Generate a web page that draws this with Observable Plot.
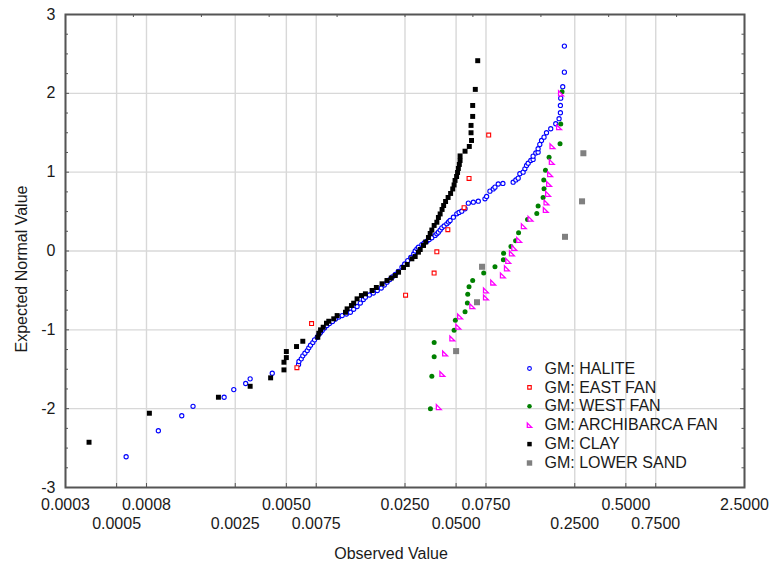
<!DOCTYPE html>
<html><head><meta charset="utf-8">
<script src="https://cdn.jsdelivr.net/npm/d3@7"></script>
<script src="https://cdn.jsdelivr.net/npm/@observablehq/plot@0.6"></script>
<style>body{margin:0;background:#fff;} #chart svg{display:block;}</style>
</head><body><div id="chart"></div>
<script>
const seriesNames = ["GM: HALITE", "GM: EAST FAN", "GM: WEST FAN", "GM: ARCHIBARCA FAN", "GM: CLAY", "GM: LOWER SAND"];

const haliteX = [0.000569,0.000881,0.00121,0.00141,0.00215,0.00245,0.00288,0.00306,0.00413,0.0059,
0.00593,0.00612,0.00625,0.00643,0.00664,0.00678,0.00694,0.00716,0.00733,0.0076,
0.00777,0.00795,0.00813,0.00839,0.00867,0.00897,0.00935,0.00973,0.01018,0.01066,
0.01129,0.01192,0.01246,0.01305,0.01364,0.01421,0.01461,0.01542,0.01627,0.01717,
0.01812,0.01888,0.01958,0.02034,0.02104,0.02191,0.02281,0.02399,0.0249,0.02594,
0.02702,0.02814,0.0287,0.02939,0.03,0.03142,0.03242,0.03364,0.03471,0.03597,
0.03761,0.03851,0.03933,0.04027,0.04119,0.0425,0.04408,0.04515,0.0461,0.0482,
0.05048,0.05203,0.05398,0.05645,0.05903,0.06317,0.06758,0.07398,0.07565,0.07911,
0.08272,0.08471,0.08856,0.09433,0.1084,0.1125,0.1161,0.1187,0.1241,0.1271,
0.130,0.1329,0.1377,0.1421,0.1421,0.1474,0.1521,0.1521,0.1556,0.1593,
0.1648,0.1704,0.1805,0.1932,0.2021,0.2058,0.2058,0.2067,0.2124,0.2172,
0.2172];
const haliteY = [-2.61,-2.28,-2.09,-1.97,-1.855,-1.758,-1.681,-1.622,-1.551,-1.44,
-1.402,-1.368,-1.33,-1.297,-1.263,-1.228,-1.195,-1.161,-1.127,-1.094,
-1.06,-1.034,-1.009,-0.977,-0.945,-0.92,-0.895,-0.863,-0.838,-0.819,
-0.799,-0.777,-0.739,-0.704,-0.66,-0.615,-0.586,-0.558,-0.533,-0.501,
-0.47,-0.431,-0.396,-0.362,-0.33,-0.298,-0.26,-0.206,-0.165,-0.121,
-0.082,-0.038,0,0.028,0.048,0.082,0.102,0.124,0.146,0.168,
0.197,0.218,0.239,0.266,0.294,0.317,0.345,0.368,0.387,0.429,
0.472,0.489,0.505,0.536,0.607,0.619,0.632,0.662,0.692,0.759,
0.787,0.81,0.85,0.857,0.873,0.901,0.924,0.98,1.0,1.043,
1.085,1.114,1.148,1.161,1.203,1.244,1.254,1.297,1.352,1.402,
1.444,1.5,1.551,1.614,1.678,1.754,1.846,1.939,2.084,2.269,
2.599];

const eastFanX = [0.00577,0.00704,0.0252,0.0371,0.0385,0.0447,0.0557,0.0596,0.0778];
const eastFanY = [-1.48,-0.92,-0.56,-0.28,-0.01,0.27,0.55,0.92,1.47];

const westFanX = [0.0353,0.03597,0.03713,0.03713,0.04866,0.04949,0.05645,0.05825,0.05855,0.05957,
0.06261,0.07271,0.08471,0.09494,0.0952,0.1052,0.1121,0.1167,0.1318,0.1494,
0.1521,0.1627,0.1648,0.1642,0.1681,0.1765,0.2048,0.2067,0.2104];
const westFanY = [-2.0,-1.59,-1.34,-1.16,-1.005,-0.88,-0.77,-0.66,-0.55,-0.455,
-0.375,-0.28,-0.2,-0.11,-0.03,0.057,0.13,0.23,0.4,0.476,
0.57,0.68,0.79,0.9,1.025,1.19,1.36,1.61,2.02];

const archibarcaX = [0.03954,0.04151,0.04307,0.04752,0.05155,0.05277,0.06228,0.07496,0.07496,0.08272,
0.09433,0.09963,0.1014,0.1066,0.110,0.1176,0.1253,0.1372,0.1688,0.1704,
0.1741,0.1765,0.1789,0.1831,0.1848,0.2021,0.2075];
const archibarcaY = [-1.98,-1.56,-1.3,-1.11,-0.96,-0.83,-0.7,-0.59,-0.5,-0.4,
-0.31,-0.22,-0.125,-0.03,0.04,0.14,0.315,0.41,0.52,0.615,
0.725,0.85,0.975,1.13,1.33,1.57,2.0];

const clayX = [0.000344,0.00078,0.00199,0.00306,0.00404,0.00484,0.00484,0.005,0.005,0.00574,
0.00625,0.00766,0.00777,0.00795,0.00824,0.00862,0.00889,0.00951,0.00996,0.01115,
0.0114,0.01209,0.01246,0.01305,0.01384,0.01461,0.016,0.01695,0.01831,0.01958,
0.02075,0.02191,0.02291,0.02451,0.02577,0.02744,0.0287,0.03,0.03073,0.03213,
0.0331,0.03436,0.03518,0.03597,0.03713,0.03851,0.03933,0.04027,0.04134,0.04222,
0.04335,0.04486,0.04641,0.04777,0.04866,0.0493,0.05034,0.051,0.05155,0.05223,
0.05277,0.05277,0.05645,0.0598,0.06164,0.06123,0.06123,0.06261,0.06261,0.06488,
0.06704];
const clayY = [-2.426,-2.058,-1.855,-1.716,-1.609,-1.508,-1.411,-1.352,-1.275,-1.212,
-1.145,-1.094,-1.043,-1.0,-0.967,-0.916,-0.891,-0.86,-0.819,-0.777,
-0.734,-0.692,-0.662,-0.607,-0.565,-0.543,-0.501,-0.463,-0.416,-0.374,
-0.343,-0.311,-0.269,-0.209,-0.171,-0.099,-0.07,-0.015,0.019,0.07,
0.114,0.171,0.222,0.266,0.324,0.365,0.425,0.47,0.527,0.577,
0.628,0.679,0.73,0.787,0.838,0.895,0.945,0.996,1.047,1.098,
1.148,1.206,1.266,1.326,1.402,1.5,1.593,1.707,1.846,2.05,
2.414];

const lowerSandX = [0.05,0.0664,0.0711,0.219,0.276,0.281];
const lowerSandY = [-1.27,-0.65,-0.2,0.18,0.63,1.24];

const xTicks = [0.00025,0.0005,0.00075,0.0025,0.005,0.0075,0.025,0.05,0.075,0.25,0.5,0.75,2.5];
const xTickLabels = ["0.0003","0.0005","0.0008","0.0025","0.0050","0.0075","0.0250","0.0500","0.0750","0.2500","0.5000","0.7500","2.5000"];
const yTicks = [-3,-2,-1,0,1,2,3];
const yTickLabels = ["-3","-2","-1","0","1","2","3"];
const yMinorTicks = [-2.75,-2.5,-2.25,-1.75,-1.5,-1.25,-0.75,-0.5,-0.25,0.25,0.5,0.75,1.25,1.5,1.75,2.25,2.5,2.75];
const topTicks = [0.000628,0.00158,0.00396,0.00995,0.025,0.0628,0.158,0.396,0.995];

const xLabelRows = xTicks.map((v, i) => ({v, label: xTickLabels[i], row: i % 2}));
const yLabelRows = yTicks.map((v, i) => ({v, label: yTickLabels[i]}));

const pts = (X, Y) => X.map((x, i) => ({x, y: Y[i]}));

const rightTriangle = {
  draw(ctx, size) {
    const s = Math.sqrt(size) * 1.15;
    ctx.moveTo(-s / 2, -s / 2);
    ctx.lineTo(-s / 2, s / 2);
    ctx.lineTo(s / 2, s / 2);
    ctx.closePath();
  }
};

const styles = [
  {symbol: "circle", r: 2.1, fill: "white", stroke: "#0000ff", strokeWidth: 1.1},
  {symbol: "square", r: 2.2, fill: "white", stroke: "#ff0000", strokeWidth: 1.1},
  {symbol: "circle", r: 2.5, fill: "#008000", stroke: "none"},
  {symbol: rightTriangle, r: 2.4, fill: "white", stroke: "#ff00ff", strokeWidth: 1.3},
  {symbol: "square", r: 2.8, fill: "#000000", stroke: "none"},
  {symbol: "square", r: 3.4, fill: "#808080", stroke: "none"}
];

const seriesData = [
  pts(haliteX, haliteY),
  pts(eastFanX, eastFanY),
  pts(westFanX, westFanY),
  pts(archibarcaX, archibarcaY),
  pts(clayX, clayY),
  pts(lowerSandX, lowerSandY)
];

const frameW = 769 - 65 - 25, frameH = 564 - 14 - 77;
const ink = "#1a1a1a";
const axisInk = "#555555";

const legendMarks = [];
seriesNames.forEach((name, i) => {
  const dy = 354 + 18.9 * i;
  const st = styles[i];
  legendMarks.push(Plot.dot([0], {frameAnchor: "top-left", dx: 464, dy, ...st, r: st.r * 0.9}));
  legendMarks.push(Plot.text([name], {frameAnchor: "top-left", dx: 479, dy, text: d => d, textAnchor: "start", lineAnchor: "middle", fill: ink, fontSize: 16}));
});

const chart = Plot.plot({
  width: 769, height: 564,
  marginLeft: 65, marginRight: 25, marginTop: 14, marginBottom: 77,
  style: {fontFamily: "'Liberation Sans', Arial, sans-serif", fontSize: "16px", color: ink, background: "#ffffff"},
  x: {type: "log", domain: [0.00025, 2.5], axis: null},
  y: {domain: [-3, 3], axis: null},
  marks: [
    Plot.gridX(xTicks, {stroke: "#d8d8d8", strokeOpacity: 1, strokeWidth: 1.4}),
    Plot.gridY([-2, -1, 0, 1, 2], {stroke: "#d8d8d8", strokeOpacity: 1, strokeWidth: 1.4}),
    // inward ticks
    Plot.tickY(yMinorTicks, {y: d => d, stroke: axisInk, insetRight: frameW - 3}),
    Plot.tickY(yTicks, {y: d => d, stroke: axisInk, insetRight: frameW - 4}),
    Plot.tickY(yMinorTicks, {y: d => d, stroke: axisInk, insetLeft: frameW - 2.5}),
    Plot.tickY(yTicks, {y: d => d, stroke: axisInk, insetLeft: frameW - 4}),
    Plot.tickX(xTicks, {x: d => d, stroke: axisInk, insetTop: frameH - 4}),
    Plot.tickX(topTicks, {x: d => d, stroke: axisInk, insetBottom: frameH - 3}),
    // tick labels
    Plot.text(xLabelRows.filter(d => d.row === 0), {x: "v", text: "label", frameAnchor: "bottom", lineAnchor: "middle", dy: 17, fill: ink, fontSize: 16}),
    Plot.text(xLabelRows.filter(d => d.row === 1), {x: "v", text: "label", frameAnchor: "bottom", lineAnchor: "middle", dy: 36, fill: ink, fontSize: 16}),
    Plot.text(yLabelRows, {y: "v", text: "label", frameAnchor: "left", textAnchor: "end", lineAnchor: "middle", dx: -10, fill: ink, fontSize: 16}),
    Plot.text(["Observed Value"], {frameAnchor: "bottom", dx: -14, dy: 66, text: d => d, textAnchor: "middle", lineAnchor: "middle", fill: ink, fontSize: 16}),
    Plot.text(["Expected Normal Value"], {frameAnchor: "left", dx: -44, dy: 18, rotate: -90, text: d => d, textAnchor: "middle", lineAnchor: "middle", fill: ink, fontSize: 16}),
    // data
    ...seriesData.map((data, i) => Plot.dot(data, {x: "x", y: "y", ...styles[i]})),
    Plot.frame({stroke: axisInk, strokeWidth: 2}),
    ...legendMarks
  ]
});
document.getElementById("chart").appendChild(chart);
</script>
</body></html>
